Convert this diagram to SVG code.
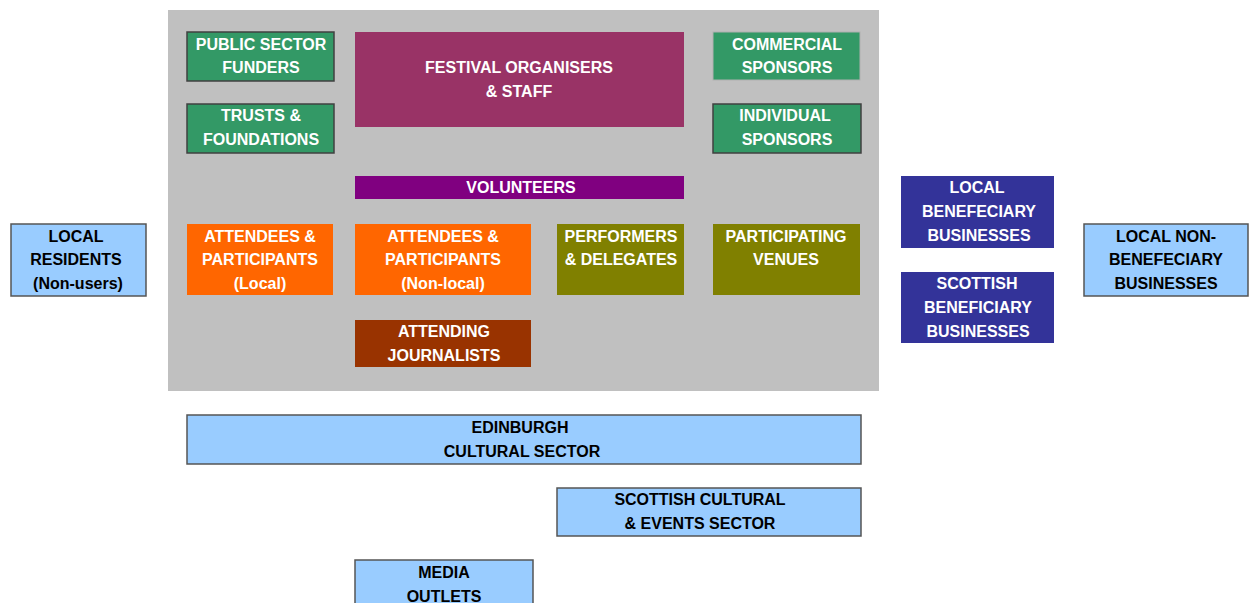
<svg xmlns="http://www.w3.org/2000/svg" width="1253" height="603" viewBox="0 0 1253 603">
<style>
text{font-family:"Liberation Sans",Arial,sans-serif;font-weight:bold;font-size:16px;text-anchor:middle}
.w{fill:#ffffff}
.k{fill:#000000}
.green{fill:#339966}
.dk{stroke:#404040;stroke-width:1.5}
.lt{stroke:#b0b0b0;stroke-width:1}
.lb{fill:#99ccff;stroke:#555555;stroke-width:1.5}
</style>
<rect x="168" y="10" width="711" height="381" fill="#c0c0c0"/>
<g id="connectors"/>
<g id="public-sector-funders"><rect x="187" y="32" width="147" height="49" class="green dk"/><text class="w" x="261" y="50">PUBLIC SECTOR</text><text class="w" x="261" y="73">FUNDERS</text></g>
<g id="trusts-foundations"><rect x="187" y="104" width="147" height="49" class="green dk"/><text class="w" x="261" y="121">TRUSTS &amp;</text><text class="w" x="261" y="145">FOUNDATIONS</text></g>
<g id="festival-organisers"><rect x="355" y="32" width="329" height="95" fill="#993366"/><text class="w" x="519" y="73">FESTIVAL ORGANISERS</text><text class="w" x="519" y="97">&amp; STAFF</text></g>
<g id="commercial-sponsors"><rect x="713" y="32" width="147" height="48" class="green lt"/><text class="w" x="787" y="50">COMMERCIAL</text><text class="w" x="787" y="73">SPONSORS</text></g>
<g id="individual-sponsors"><rect x="713" y="104" width="148" height="49" class="green dk"/><text class="w" x="785" y="121">INDIVIDUAL</text><text class="w" x="787" y="145">SPONSORS</text></g>
<g id="volunteers"><rect x="355" y="176" width="329" height="23" fill="#800080"/><text class="w" x="521" y="193">VOLUNTEERS</text></g>
<g id="attendees-local"><rect x="187" y="224" width="146" height="71" fill="#ff6600"/><text class="w" x="260" y="242">ATTENDEES &amp;</text><text class="w" x="260" y="265">PARTICIPANTS</text><text class="w" x="260" y="289">(Local)</text></g>
<g id="attendees-nonlocal"><rect x="355" y="224" width="176" height="71" fill="#ff6600"/><text class="w" x="443" y="242">ATTENDEES &amp;</text><text class="w" x="443" y="265">PARTICIPANTS</text><text class="w" x="443" y="289">(Non-local)</text></g>
<g id="performers"><rect x="557" y="224" width="127" height="71" fill="#808000"/><text class="w" x="621" y="242">PERFORMERS</text><text class="w" x="621" y="265">&amp; DELEGATES</text></g>
<g id="participating-venues"><rect x="713" y="224" width="147" height="71" fill="#808000"/><text class="w" x="786" y="242">PARTICIPATING</text><text class="w" x="786" y="265">VENUES</text></g>
<g id="attending-journalists"><rect x="355" y="320" width="176" height="47" fill="#993300"/><text class="w" x="444" y="337">ATTENDING</text><text class="w" x="444" y="361">JOURNALISTS</text></g>
<g id="local-residents"><rect x="11" y="224" width="135" height="72" class="lb"/><text class="k" x="76" y="242">LOCAL</text><text class="k" x="76" y="265">RESIDENTS</text><text class="k" x="78" y="289">(Non-users)</text></g>
<g id="local-beneficiary-businesses"><rect x="901" y="176" width="153" height="72" fill="#333399"/><text class="w" x="977" y="193">LOCAL</text><text class="w" x="979" y="217">BENEFECIARY</text><text class="w" x="979" y="241">BUSINESSES</text></g>
<g id="scottish-beneficiary-businesses"><rect x="901" y="272" width="153" height="71" fill="#333399"/><text class="w" x="977" y="289">SCOTTISH</text><text class="w" x="978" y="313">BENEFICIARY</text><text class="w" x="978" y="337">BUSINESSES</text></g>
<g id="local-non-beneficiary-businesses"><rect x="1084" y="224" width="164" height="72" class="lb"/><text class="k" x="1166" y="242">LOCAL NON-</text><text class="k" x="1166" y="265">BENEFECIARY</text><text class="k" x="1166" y="289">BUSINESSES</text></g>
<g id="edinburgh-cultural-sector"><rect x="187" y="415" width="674" height="49" class="lb"/><text class="k" x="520" y="433">EDINBURGH</text><text class="k" x="522" y="457">CULTURAL SECTOR</text></g>
<g id="scottish-cultural-events-sector"><rect x="557" y="488" width="304" height="48" class="lb"/><text class="k" x="700" y="505">SCOTTISH CULTURAL</text><text class="k" x="700" y="529">&amp; EVENTS SECTOR</text></g>
<g id="media-outlets"><rect x="355" y="560" width="178" height="50" class="lb"/><text class="k" x="444" y="578">MEDIA</text><text class="k" x="444" y="602">OUTLETS</text></g>
</svg>
